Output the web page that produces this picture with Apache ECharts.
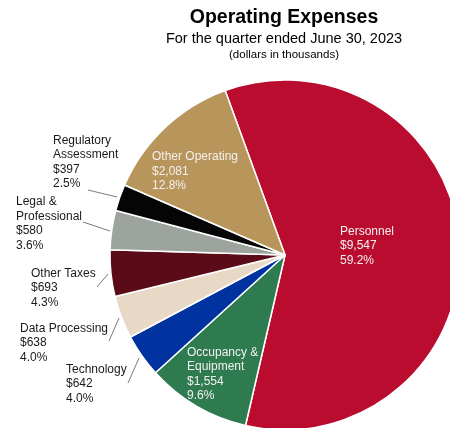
<!DOCTYPE html>
<html><head><meta charset="utf-8">
<script src="https://cdn.jsdelivr.net/npm/echarts@6/dist/echarts.min.js"></script>
<style>html,body{margin:0;padding:0;background:#fff}#c{width:450px;height:428px}</style>
</head><body><div id="c"></div>
<script>
// ---- data ----
const categories = ['Personnel', 'Occupancy &\nEquipment', 'Technology', 'Data Processing', 'Other Taxes', 'Legal &\nProfessional', 'Regulatory\nAssessment', 'Other Operating'];
const values = [9547, 1554, 642, 638, 693, 580, 397, 2081];
const shares = [59.2, 9.6, 4.0, 4.0, 4.3, 3.6, 2.5, 12.8];
const titleText = 'Operating Expenses';
const subtitleText = 'For the quarter ended June 30, 2023';
const unitText = '(dollars in thousands)';

// ---- styling / layout ----
const colors = ['#BA0C2F', '#2E7B4F', '#0033A0', '#E8D9C6', '#5B0A18', '#9DA49E', '#050505', '#B8965B'];
const insideIdx = [0, 1, 7];
const labelPos = { 0: [340, 224], 1: [187, 345], 2: [66, 362], 3: [20, 321], 4: [31, 266], 5: [16, 194.5], 6: [53, 133], 7: [152, 149.5] };
const leaderEnds = { 2: [[139, 358], [128, 383]], 3: [[119, 318], [109, 341]], 4: [[108, 274], [97, 287]], 5: [[110, 231], [83, 222]], 6: [[117, 197], [88, 190]] };
const FONT = '"Liberation Sans", Arial, sans-serif';

const fmt = v => '$' + v.toLocaleString('en-US');
const pieData = categories.map((c, i) => {
  const inside = insideIdx.indexOf(i) >= 0;
  return {
    name: c, value: values[i],
    itemStyle: { color: colors[i] },
    label: { position: inside ? 'inside' : 'outside', color: inside ? '#f4f0f0' : '#1a1a1a' },
    labelLine: { show: !inside }
  };
});

const chart = echarts.init(document.getElementById('c'), null, { renderer: 'canvas' });
chart.setOption({
  animation: false,
  graphic: [
    { type: 'text', x: 284, y: 17.5, style: { text: titleText, font: 'bold 19.5px ' + FONT, fill: '#000', align: 'center', verticalAlign: 'middle' } },
    { type: 'text', x: 284, y: 38.5, style: { text: subtitleText, font: '14.5px ' + FONT, fill: '#000', align: 'center', verticalAlign: 'middle' } },
    { type: 'text', x: 284, y: 55, style: { text: unitText, font: '11.5px ' + FONT, fill: '#000', align: 'center', verticalAlign: 'middle' } }
  ],
  series: [{
    type: 'pie',
    center: [285, 255],
    radius: 175,
    startAngle: 110,
    clockwise: true,
    avoidLabelOverlap: false,
    silent: true,
    itemStyle: { borderColor: '#fff', borderWidth: 1.5 },
    label: {
      fontFamily: FONT, fontSize: 12, lineHeight: 14.5, overflow: 'none',
      formatter: p => p.name + '\n' + fmt(p.value) + '\n' + shares[p.dataIndex].toFixed(1) + '%'
    },
    labelLine: { length: 4, length2: 0, lineStyle: { color: '#7a7a7a', width: 1 } },
    labelLayout: function (p) {
      const i = p.dataIndex;
      const r = { x: labelPos[i][0], y: labelPos[i][1], align: 'left', verticalAlign: 'top' };
      if (leaderEnds[i]) r.labelLinePoints = leaderEnds[i];
      return r;
    },
    data: pieData
  }]
});
</script></body></html>
